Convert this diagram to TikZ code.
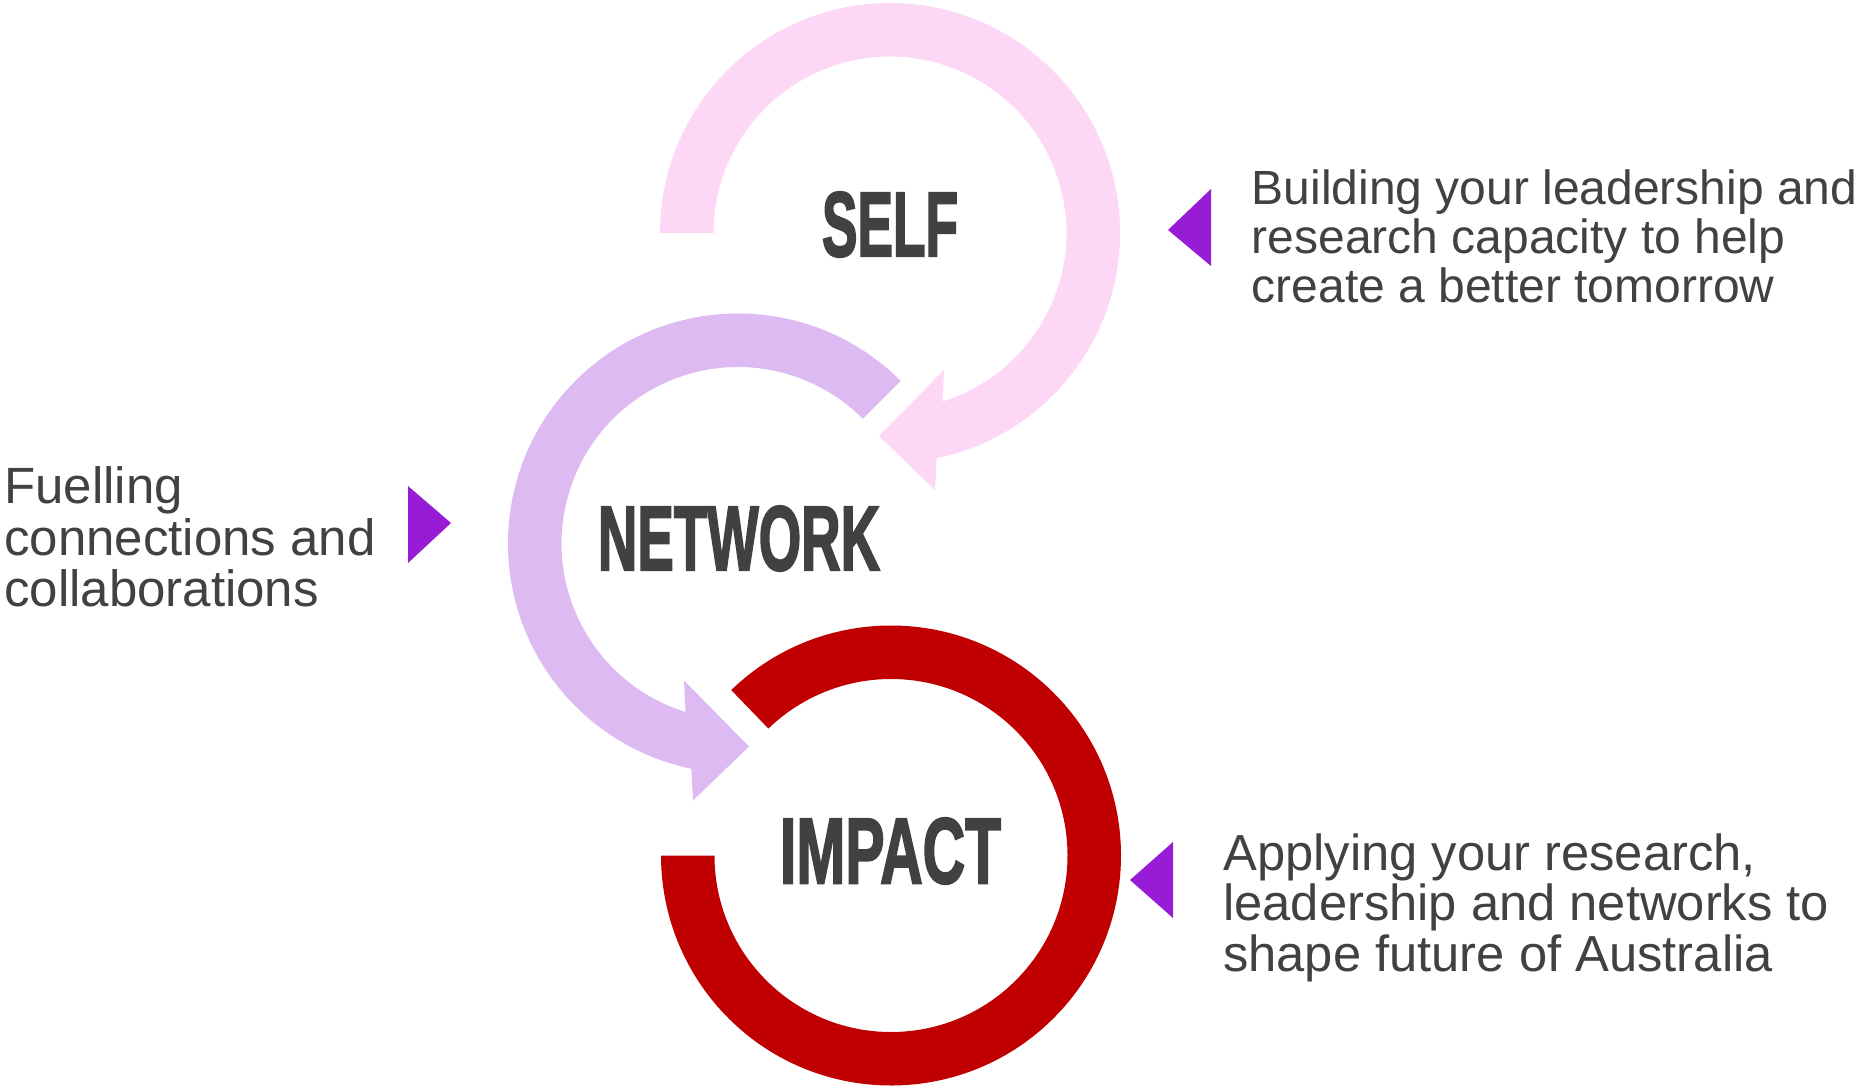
\documentclass[tikz,border=0pt]{standalone}
\usepackage{fontspec}
\setmainfont{Liberation Sans}
\newfontfamily\titlefont{Liberation Sans}[FakeBold=2.5]
\usetikzlibrary{calc}
\definecolor{selfc}{RGB}{253,216,246}
\definecolor{netc}{RGB}{222,186,242}
\definecolor{impc}{RGB}{192,0,0}
\definecolor{markc}{RGB}{152,27,214}
\definecolor{txtc}{RGB}{65,65,67}
\newcommand\mytitle[3]{\resizebox{#2pt}{#3pt}{\titlefont\bfseries #1}}
\begin{document}
\begin{tikzpicture}[x=1pt,y=1pt,
  body/.style={anchor=base west,inner sep=0pt,text=txtc},
  titlebox/.style={inner sep=0pt,text=txtc},
  marker/.style={fill=markc}]
\fill[white] (0,-1087) rectangle (1858,0);
\useasboundingbox (0,-1087) rectangle (1858,0);
% centres
\coordinate (P) at (890,-233);
\coordinate (N) at (738,-543.5);
\coordinate (I) at (891,-855.5);
% SELF arrow
\fill[selfc] ($(P)+(180:230)$) arc[start angle=180,end angle=-78.3,radius=230]
  -- ($(P)+(45,-257)$) -- ($(P)+(-11,-203)$) -- ($(P)+(54,-137)$)
  -- ($(P)+(-72.7:176.5)$) arc[start angle=-72.7,end angle=180,radius=176.5] -- cycle;
% NETWORK arrow
\fill[netc] ($(N)+(45:230)$) arc[start angle=45,end angle=258.3,radius=230]
  -- ($(N)+(-45,-257)$) -- ($(N)+(11,-203)$) -- ($(N)+(-54,-137)$)
  -- ($(N)+(252.7:176.5)$) arc[start angle=252.7,end angle=45,radius=176.5] -- cycle;
% IMPACT ring
\fill[impc] ($(I)+(134:230)$) arc[start angle=134,end angle=-180,radius=230]
  -- ($(I)+(180:176.5)$) arc[start angle=-180,end angle=134,radius=176.5] -- cycle;
% titles
\node[titlebox] (self) at (890,-224.5) {\mytitle{SELF}{136}{64}};
\node[titlebox] (network) at (739,-538.5) {\mytitle{NETWORK}{282}{64}};
\node[titlebox] (impact) at (890.5,-851) {\mytitle{IMPACT}{221}{65}};
% markers
\fill[marker] (1168,-230) -- (1211,-189) -- (1211,-266) -- cycle;
\fill[marker] (408,-486) -- (451,-523) -- (408,-563) -- cycle;
\fill[marker] (1130,-880) -- (1173,-842) -- (1173,-918) -- cycle;
% texts
\begin{scope}[font=\fontsize{48}{49}\selectfont]
\node[body] (ta) at (1251.5,-204) {Building your leadership and};
\node[body] (tb) at (1251.5,-253.5) {research capacity to help};
\node[body] (tc) at (1251.5,-302) {create a better tomorrow};
\end{scope}
\begin{scope}[font=\fontsize{51}{52}\selectfont]
\node[body] (la) at (4,-503.5) {Fuelling};
\node[body] (lb) at (4,-555) {connections and};
\node[body] (lc) at (4,-606.5) {collaborations};
\end{scope}
\begin{scope}[font=\fontsize{50.7}{51}\selectfont]
\node[body] (ba) at (1223,-870) {Applying your research,};
\node[body] (bb) at (1223,-920.5) {leadership and networks to};
\node[body] (bc) at (1223,-971) {shape future of Australia};
\end{scope}
\end{tikzpicture}
\end{document}
